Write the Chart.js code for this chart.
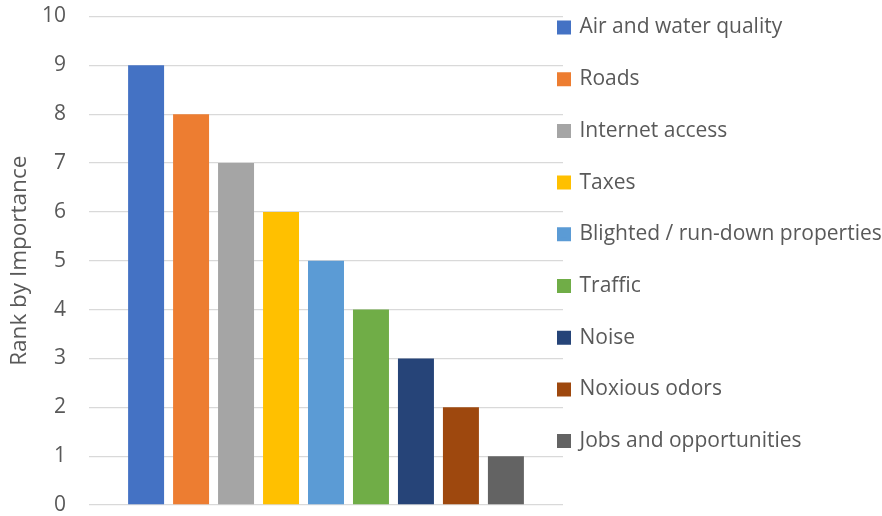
<!DOCTYPE html>
<html>
<head>
<meta charset="utf-8">
<script src="https://cdn.jsdelivr.net/npm/chart.js@4/dist/chart.umd.min.js"></script>
<style>
  html, body { margin: 0; padding: 0; background: #ffffff; }
  #wrap { width: 882px; height: 516px; position: relative; }
</style>
</head>
<body>
<div id="wrap"><canvas id="chart"></canvas></div>
<script>
// Issues ranked by importance (higher = more important)
const issues = [
  'Air and water quality',
  'Roads',
  'Internet access',
  'Taxes',
  'Blighted / run-down properties',
  'Traffic',
  'Noise',
  'Noxious odors',
  'Jobs and opportunities'
];
const ranks = [9, 8, 7, 6, 5, 4, 3, 2, 1];
const colors = ['#4472C4', '#ED7D31', '#A5A5A5', '#FFC000', '#5B9BD5', '#70AD47', '#264478', '#9E480E', '#636363'];
const yTicks = [0, 1, 2, 3, 4, 5, 6, 7, 8, 9, 10];

const FONT = '"Open Sans", "Noto Sans", sans-serif';
const TEXT = '#595959';

// Each issue is its own dataset so it gets its own legend entry
const datasets = issues.map((name, i) => ({
  label: name,
  data: [ranks[i]],
  backgroundColor: colors[i],
  borderWidth: 0
}));

// Legend swatch: a 10px square with a 4px outline of the same colour (14px overall)
const SWATCH = 10;
const SWATCH_EDGE = 4;

// Place the legend so it sits flush against the plot's right edge
const legendPlacer = {
  id: 'legendPlacer',
  afterLayout(chart) {
    const lg = chart.legend;
    const pad = chart.options.plugins.legend.labels.padding;
    lg.left = chart.chartArea.right - 6 + SWATCH_EDGE / 2 - pad;
    lg.right = chart.width;
    lg.top = chart.chartArea.top + 0.5 - pad;
    lg.bottom = chart.height;
  }
};

new Chart(document.getElementById('chart'), {
  type: 'bar',
  data: { labels: [''], datasets },
  plugins: [legendPlacer],
  options: {
    responsive: true,
    maintainAspectRatio: false,
    animation: false,
    categoryPercentage: 0.854,
    barPercentage: 0.8,
    layout: { padding: { top: 16.5, bottom: 11, left: 0, right: 0 } },
    plugins: {
      tooltip: { enabled: false },
      legend: {
        position: 'right',
        align: 'start',
        maxWidth: 319,
        labels: {
          boxWidth: SWATCH,
          boxHeight: SWATCH,
          padding: 30.7,
          color: TEXT,
          font: { family: FONT, size: 21 },
          generateLabels(chart) {
            const items = Chart.defaults.plugins.legend.labels.generateLabels(chart);
            items.forEach(it => {
              it.strokeStyle = it.fillStyle;
              it.lineWidth = SWATCH_EDGE;
              it.lineJoin = 'miter';
            });
            return items;
          }
        }
      }
    },
    scales: {
      x: { display: false },
      y: {
        min: 0,
        max: 10,
        afterFit(scale) { scale.width = 89; },
        afterBuildTicks(scale) { scale.ticks = yTicks.map(v => ({ value: v })); },
        ticks: {
          padding: 0,
          color: TEXT,
          font: { family: FONT, size: 21, lineHeight: 1.0 }
        },
        grid: {
          color: '#d9d9d9',
          lineWidth: 1.3,
          drawTicks: true,
          tickLength: 23,
          tickColor: 'rgba(0,0,0,0)'
        },
        border: { display: false },
        title: {
          display: true,
          text: 'Rank by Importance',
          color: TEXT,
          padding: { top: 6, bottom: 0 },
          font: { family: FONT, size: 22.5 }
        }
      }
    }
  }
});
</script>
</body>
</html>
